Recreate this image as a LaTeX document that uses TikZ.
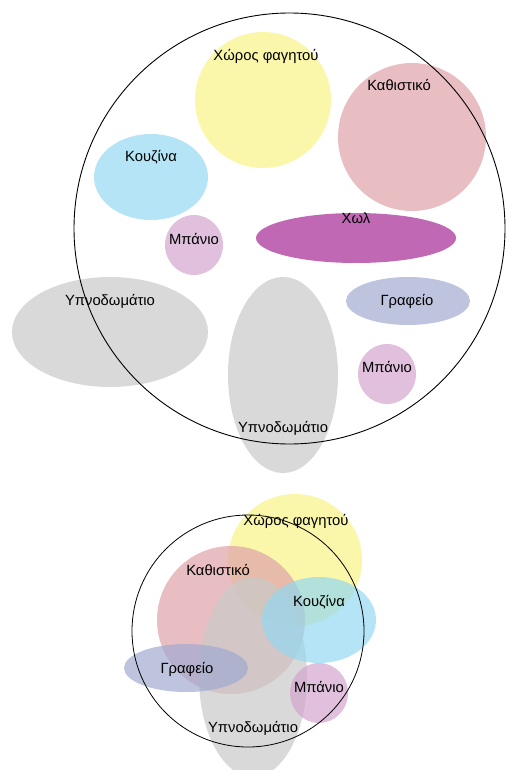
\documentclass[tikz,border=0pt]{standalone}
\usepackage{fontspec}
\setmainfont{Liberation Sans}
\usepackage{tikz}

\definecolor{dining}{RGB}{250,247,170}
\definecolor{living}{RGB}{232,190,195}
\definecolor{kitchen}{RGB}{180,228,245}
\definecolor{bath}{RGB}{224,192,220}
\definecolor{hall}{RGB}{192,104,180}
\definecolor{bed}{RGB}{217,217,217}
\definecolor{office}{RGB}{190,196,222}
% deeper tones, shown through opacity in the lower plan
\definecolor{diningT}{RGB}{248,244,134}
\definecolor{livingT}{RGB}{222,162,169}
\definecolor{kitchenT}{RGB}{148,216,241}
\definecolor{bathT}{RGB}{211,165,205}
\definecolor{bedT}{RGB}{201,201,201}
\definecolor{officeT}{RGB}{162,171,208}

\begin{document}
\begin{tikzpicture}[x=1pt, y=-1pt]
            \tikzset{
                room/.style={font=\fontsize{14.8}{17}\selectfont, anchor=base, inner sep=0pt},
                wall/.style={draw=black, line width=0.9pt}
            };
            \useasboundingbox (0, 0) rectangle (508, 770);
            % upper plan
            \fill[dining] (263, 100) ellipse (68 and 68);
            \fill[living] (412, 137) ellipse (74 and 74);
            \fill[kitchen] (151, 177) ellipse (57 and 43);
            \fill[bath] (194, 245) ellipse (29 and 30);
            \fill[hall] (356, 238) ellipse (100 and 25);
            \fill[bed] (110, 332) ellipse (98 and 55);
            \fill[bed] (283, 375) ellipse (55 and 98);
            \fill[office] (408, 301) ellipse (62 and 24);
            \fill[bath] (387, 374) ellipse (29 and 30);
            \node[room] (dinA) at (266, 61) {Χώρος φαγητού};
            \node[room] (livA) at (399, 91) {Καθιστικό};
            \node[room] (kitA) at (151, 162) {Κουζίνα};
            \node[room] (bathA) at (194, 244) {Μπάνιο};
            \node[room] (hallA) at (356, 223) {Χωλ};
            \node[room] (bedA) at (110, 305) {Υπνοδωμάτιο};
            \node[room] (offA) at (407, 305) {Γραφείο};
            \node[room] (bathB) at (387, 372) {Μπάνιο};
            \node[room] (bedB) at (283, 432) {Υπνοδωμάτιο};
            \draw[wall] (289.5, 228.5) circle (215.5);
            % lower plan, rooms overlapping
            \begin{scope}[fill opacity=0.7]
                \fill[diningT] (295, 560) ellipse (67 and 66);
                \fill[livingT] (231, 620) ellipse (74 and 74);
                \fill[bedT] (253, 677) ellipse (54 and 100);
                \fill[kitchenT] (319, 620) ellipse (57 and 43);
                \fill[officeT] (186, 668) ellipse (62 and 24);
                \fill[bathT] (319, 693) ellipse (29 and 30);
            \end{scope}
            \node[room] (dinC) at (296, 525) {Χώρος φαγητού};
            \node[room] (livC) at (218, 575) {Καθιστικό};
            \node[room] (kitC) at (319, 606) {Κουζίνα};
            \node[room] (offC) at (187, 673) {Γραφείο};
            \node[room] (bathC) at (319, 692) {Μπάνιο};
            \node[room] (bedC) at (253, 732) {Υπνοδωμάτιο};
            \draw[wall, line width=0.8pt] (248, 631) circle (116);
        \end{tikzpicture}
\end{document}
